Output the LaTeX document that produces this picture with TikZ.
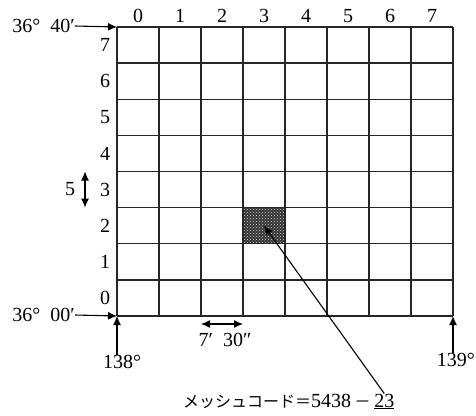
\documentclass[tikz,border=0pt]{standalone}
\usepackage{fontspec}
\setmainfont{Liberation Serif}
\newfontfamily\cjk{Noto Sans CJK JP}
\usetikzlibrary{arrows.meta, positioning, patterns}

\begin{document}
\begin{tikzpicture}[x=1pt, y=-1pt,
    lbl/.style={font=\fontsize{20}{22}\selectfont, inner sep=0pt},
    ptr/.style={draw, line width=1.1pt, -{Latex[length=9pt,width=8pt]}},
    dbl/.style={draw, line width=1.1pt, {Latex[length=9pt,width=8pt]}-{Latex[length=9pt,width=8pt]}},
    gridline/.style={draw, line width=1.4pt, black!85},
    shaded/.style={fill=black!80, postaction={pattern=crosshatch dots, pattern color=white!85!black}}
    ]
    \useasboundingbox (0,0) rectangle (476,415);

    %% ---- mesh grid ----
    \coordinate (sw) at (117,316);
    \coordinate (nw) at (117,27);
    \coordinate (se) at (453,316);

    % shaded cell (col 3, row 2)
    \path[shaded] (243,243.75) rectangle (285,207.6);
    \coordinate (mesh) at (264,225.7);

    \foreach \i in {0,...,8} {
        \draw[gridline] (117+\i*42,27) -- (117+\i*42,316);
        \draw[gridline] (117,316-\i*36.125) -- (453,316-\i*36.125);
    }

    % column and row numbers
    \foreach \i in {0,...,7} {
        \node[lbl] (col\i) at (138+\i*42,16) {\i};
        \node[lbl] (row\i) at (105,298-\i*36.125) {\i};
    }

    %% ---- latitude / longitude ----
    \node[lbl, anchor=east] (lat40) at (75,26)  {36°\hspace{10pt}40′};
    \node[lbl, anchor=east] (lat00) at (75,315) {36°\hspace{10pt}00′};
    \draw[ptr] (lat40.east) -- (nw);
    \draw[ptr] (lat00.east) -- (sw);

    \node[lbl] (lon138) at (122,362) {138°};
    \node[lbl, anchor=east] (lon139) at (475,360) {139°};
    \draw[ptr] (lon138.north -| sw) -- (sw);
    \draw[ptr] (lon139.north -| se) -- (se);

    %% ---- cell size ----
    \node[lbl] (dlat) at (70,189) {5};
    \coordinate (dlattop) at (85,171.5);
    \coordinate (dlatbot) at (85,207.6);
    \draw[dbl] (dlattop) -- (dlatbot);

    \node[lbl] (dlon) at (225,340) {7′\hspace{10pt}30″};
    \coordinate (dlonl) at (201,324);
    \coordinate (dlonr) at (243,324);
    \draw[dbl] (dlonl) -- (dlonr);

    %% ---- mesh code ----
    \node[lbl, anchor=base west] (code) at (183,407)
        {{\cjk\fontsize{16}{18}\selectfont メッシュコード＝}5438\,{\cjk\fontsize{16}{18}\selectfont －}\,};
    \node[lbl, anchor=base west] (sub) at (code.base east) {\underline{23}};
    \draw[ptr] (sub.north) -- (mesh);
\end{tikzpicture}
\end{document}
